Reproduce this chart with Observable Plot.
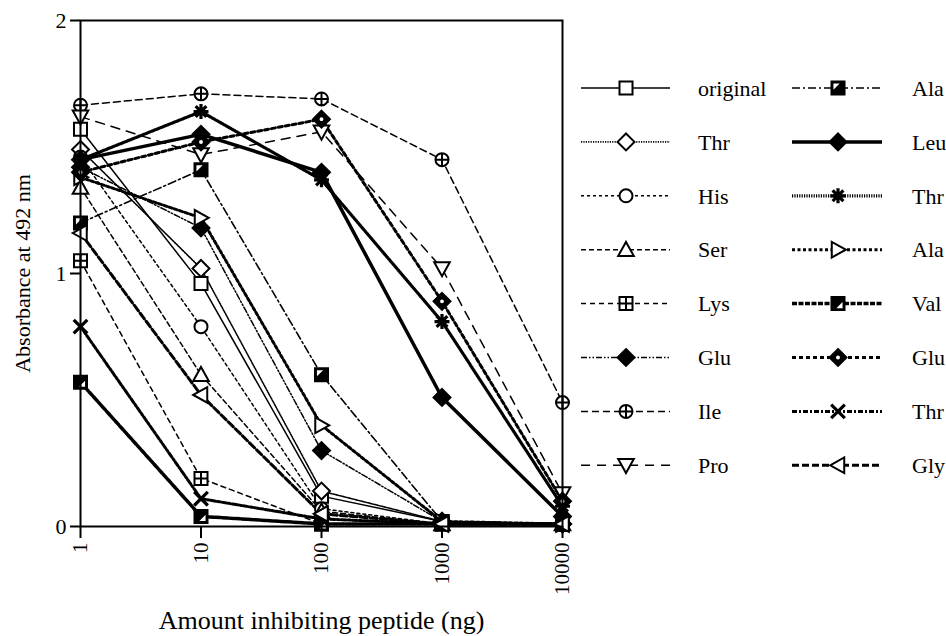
<!DOCTYPE html>
<html><head><meta charset="utf-8">
<script src="https://cdn.jsdelivr.net/npm/d3@7"></script>
<script src="https://cdn.jsdelivr.net/npm/@observablehq/plot@0.6"></script>
<style>body{margin:0;background:#fff} svg text{font-family:"Liberation Serif","Times New Roman",serif !important}</style>
</head><body><div id="chart"></div><script>
// ---- data ----
const doses = [1, 10, 100, 1000, 10000];
const doseLabels = ["1", "10", "100", "1000", "10000"];
const yTicks = [0, 1, 2];
const seriesNames = ["original","Thr","His","Ser","Lys","Glu","Ile","Pro","Ala","Leu","Thr","Ala","Val","Glu","Thr","Gly"];
const original = [1.57, 0.96, 0.12, 0.02, 0.01];
const thrA     = [1.49, 1.02, 0.14, 0.02, 0.01];
const his      = [1.46, 0.79, 0.07, 0.01, 0.01];
const ser      = [1.34, 0.60, 0.06, 0.01, 0.01];
const lys      = [1.05, 0.19, 0.01, 0.01, 0.01];
const gluA     = [1.42, 1.18, 0.30, 0.02, 0.01];
const ile      = [1.665, 1.71, 1.69, 1.45, 0.49];
const pro      = [1.62, 1.47, 1.56, 1.02, 0.13];
const alaA     = [1.20, 1.41, 0.60, 0.02, 0.01];
const leu      = [1.45, 1.55, 1.40, 0.51, 0.04];
const thrB     = [1.45, 1.64, 1.37, 0.81, 0.08];
const alaB     = [1.38, 1.22, 0.40, 0.02, 0.01];
const val      = [0.57, 0.04, 0.01, 0.01, 0.01];
const gluB     = [1.40, 1.52, 1.61, 0.89, 0.10];
const thrC     = [0.79, 0.11, 0.03, 0.01, 0.01];
const gly      = [1.16, 0.52, 0.05, 0.01, 0.01];
const seriesValues = [original, thrA, his, ser, lys, gluA, ile, pro, alaA, leu, thrB, alaB, val, gluB, thrC, gly];

// ---- custom symbols ----
const mk = f => ({draw(c, size) { const r = Math.sqrt(size / Math.PI); f(c, r); }});
const sqPath = (c, r) => { c.moveTo(-r,-r); c.lineTo(r,-r); c.lineTo(r,r); c.lineTo(-r,r); c.closePath(); };
const circPath = (c, r) => { c.moveTo(r,0); c.arc(0,0,r,0,2*Math.PI); };
const SYM = {
  square: mk(sqPath),
  diamond: mk((c,r)=>{const k=r*1.3; c.moveTo(0,-k); c.lineTo(k,0); c.lineTo(0,k); c.lineTo(-k,0); c.closePath();}),
  circle: mk(circPath),
  triUp: mk((c,r)=>{const k=r*1.2; c.moveTo(0,-k); c.lineTo(k,k*0.8); c.lineTo(-k,k*0.8); c.closePath();}),
  triDown: mk((c,r)=>{const k=r*1.2; c.moveTo(0,k); c.lineTo(k,-k*0.8); c.lineTo(-k,-k*0.8); c.closePath();}),
  triRight: mk((c,r)=>{const k=r*1.2; c.moveTo(k,0); c.lineTo(-k*0.8,-k); c.lineTo(-k*0.8,k); c.closePath();}),
  triLeft: mk((c,r)=>{const k=r*1.2; c.moveTo(-k,0); c.lineTo(k*0.8,-k); c.lineTo(k*0.8,k); c.closePath();}),
  sqPlus: mk((c,r)=>{sqPath(c,r); c.moveTo(0,-r); c.lineTo(0,r); c.moveTo(-r,0); c.lineTo(r,0);}),
  circPlus: mk((c,r)=>{circPath(c,r); c.moveTo(0,-r); c.lineTo(0,r); c.moveTo(-r,0); c.lineTo(r,0);}),
  notchTL: mk((c,r)=>{c.moveTo(-r*0.7,-r*0.7); c.lineTo(r*0.25,-r*0.7); c.lineTo(-r*0.7,r*0.25); c.closePath();}),
  notchBR: mk((c,r)=>{c.moveTo(r*0.7,r*0.7); c.lineTo(-r*0.25,r*0.7); c.lineTo(r*0.7,-r*0.25); c.closePath();}),
  dotc: mk((c,r)=>{const k=r*0.3; c.moveTo(k,0); c.arc(0,0,k,0,2*Math.PI);}),
  asterisk: mk((c,r)=>{const k=r*1.15, d=k*0.72;
    c.moveTo(0,-k); c.lineTo(0,k); c.moveTo(-k,0); c.lineTo(k,0);
    c.moveTo(-d,-d); c.lineTo(d,d); c.moveTo(-d,d); c.lineTo(d,-d);}),
  times: mk((c,r)=>{const k=r*1.05; c.moveTo(-k,-k); c.lineTo(k,k); c.moveTo(-k,k); c.lineTo(k,-k);})
};

// ---- styles per series ----
const styles = [
  {m:[["square","white"]], dash:null, w:1.5},
  {m:[["diamond","white"]], dash:"1.2,1.2", w:1.6},
  {m:[["circle","white"]], dash:"3,3", w:1.5},
  {m:[["triUp","white"]], dash:"5,3", w:1.5},
  {m:[["sqPlus","white"]], dash:"5,4", w:1.5},
  {m:[["diamond","black"]], dash:"6,2,1.5,2,1.5,2", w:1.5},
  {m:[["circPlus","white"]], dash:"7,4", w:1.5},
  {m:[["triDown","white"]], dash:"9,7", w:1.5},
  {m:[["square","black"],["notchTL","white",0]], dash:"8,3,2,3", w:1.6},
  {m:[["diamond","black"]], dash:null, w:3.5},
  {m:[["asterisk","none"]], dash:"1.2,1.2", w:3.2},
  {m:[["triRight","white"]], dash:"3,2.5", w:3},
  {m:[["square","black"],["notchBR","white",0]], dash:"5,1.5", w:3.5},
  {m:[["diamond","black"],["dotc","white",0]], dash:"4,3", w:3},
  {m:[["times","none"]], dash:"5,2,2,2", w:3},
  {m:[["triLeft","white"]], dash:"7,3", w:3}
];
const R = 6.5;
const symStroke = n => (n === "asterisk" || n === "times") ? 3.2 : 2;

const tables = seriesValues.map(vals => doses.map((d, j) => ({dose: d, value: vals[j]})));

const marks = [];
tables.forEach((t, i) => {
  const s = styles[i];
  marks.push(Plot.line(t, {x: "dose", y: "value", stroke: "black", strokeWidth: s.w,
    strokeDasharray: s.dash || undefined, strokeLinejoin: "miter"}));
});
tables.forEach((t, i) => {
  const s = styles[i];
  s.m.forEach(([name, fill, sw]) => {
    marks.push(Plot.dot(t, {x: "dose", y: "value", r: R, symbol: SYM[name], fill,
      stroke: sw === 0 ? "none" : "black", strokeWidth: symStroke(name)}));
  });
});

const FONT = "Liberation Serif";
const chart = Plot.plot({
  width: 946, height: 636,
  marginLeft: 80, marginRight: 384, marginTop: 20, marginBottom: 110,
  style: {background: "white", color: "black", fontFamily: FONT},
  x: {type: "log", domain: [1, 10000]},
  y: {domain: [0, 2]},
  marks: [
    ...marks,
    Plot.frame({stroke: "black", strokeWidth: 2}),
    Plot.axisX({ticks: doses, tickFormat: d => doseLabels[doses.indexOf(d)], tickRotate: -90,
      tickSize: 12, tickPadding: 4, fontSize: 21, strokeWidth: 2, label: null}),
    Plot.axisY({ticks: yTicks, tickFormat: d => String(d), tickSize: 10, tickPadding: 4,
      fontSize: 22, strokeWidth: 2, label: null}),
    Plot.text(["Amount inhibiting peptide (ng)"], {text: d => d, frameAnchor: "bottom", dy: 94,
      textAnchor: "middle", lineAnchor: "middle", fontSize: 26}),
    Plot.text(["Absorbance at 492 nm"], {text: d => d, frameAnchor: "left", dx: -58, rotate: -90,
      textAnchor: "middle", lineAnchor: "middle", fontSize: 22})
  ]
});

// ---- legend ----
const svg = d3.select(chart);
const leg = svg.append("g").attr("class", "legend");
const cols = [{x0: 581, x1: 670, mx: 626, tx: 698}, {x0: 792, x1: 882, mx: 838, tx: 912}];
seriesNames.forEach((name, i) => {
  const col = cols[Math.floor(i / 8)], row = i % 8;
  const y = 88 + row * 53.9;
  const s = styles[i];
  const g = leg.append("g");
  g.append("line").attr("x1", col.x0).attr("x2", col.x1).attr("y1", y).attr("y2", y)
    .attr("stroke", "black").attr("stroke-width", s.w)
    .attr("stroke-dasharray", s.dash || null);
  s.m.forEach(([mname, fill, sw]) => {
    g.append("path").attr("transform", `translate(${col.mx},${y})`)
      .attr("d", d3.symbol(SYM[mname], Math.PI * R * R)())
      .attr("fill", fill).attr("stroke", sw === 0 ? "none" : "black")
      .attr("stroke-width", symStroke(mname));
  });
  g.append("text").attr("x", col.tx).attr("y", y).attr("dy", "0.35em")
    .attr("text-anchor", "start").attr("font-size", 22).attr("fill", "black").text(name);
});
svg.attr("font-family", FONT);
svg.selectAll("text").style("font-family", `"${FONT}", serif`);

document.getElementById("chart").append(chart);
</script></body></html>
